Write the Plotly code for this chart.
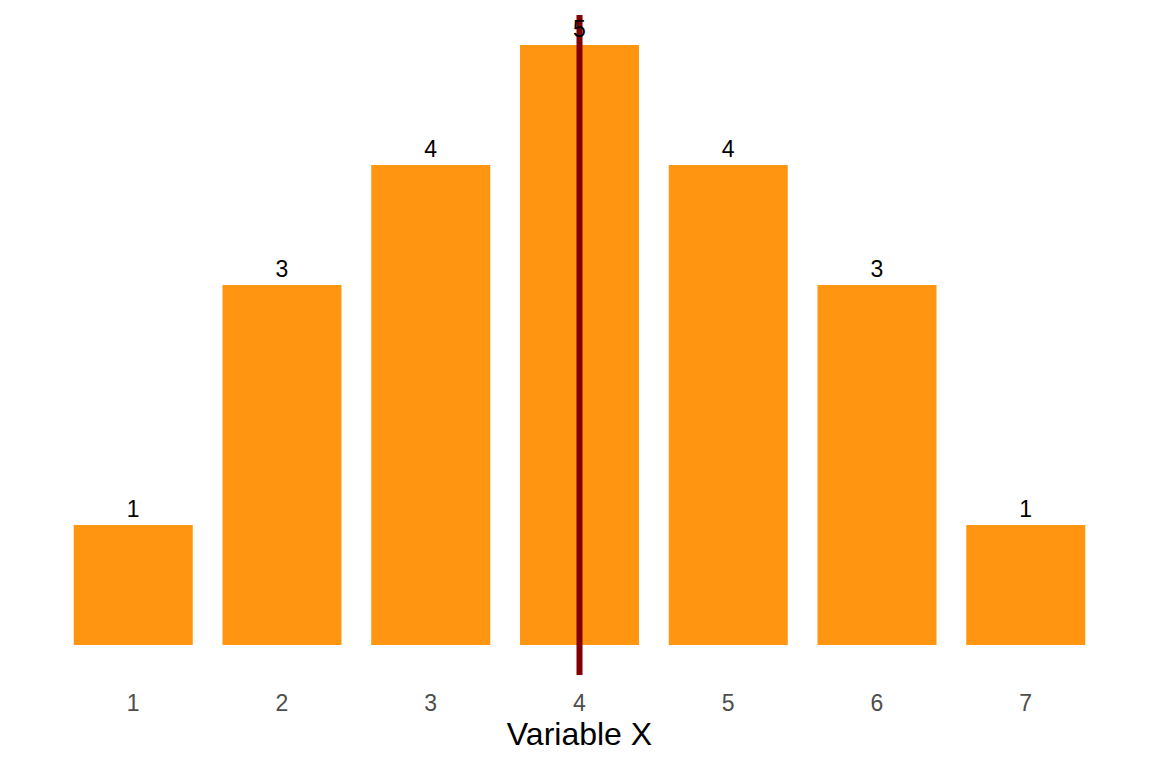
import plotly.graph_objects as go

# data
categories = [1, 2, 3, 4, 5, 6, 7]
counts = [1, 3, 4, 5, 4, 3, 1]
mean_x = 4
tick_labels = ["1", "2", "3", "4", "5", "6", "7"]

BAR_COLOR = "#FF9510"
LINE_COLOR = "#800000"
FONT = "Liberation Sans, Arial, sans-serif"

# ggplot-style expansion of the continuous y scale
y_pad = max(counts) * 0.05
y_range = [-y_pad, max(counts) + y_pad]

fig = go.Figure()

fig.add_trace(go.Bar(
    x=categories, y=counts,
    width=0.8,
    marker=dict(color=BAR_COLOR, line=dict(width=0)),
    hoverinfo="x+y",
))

fig.add_trace(go.Scatter(
    x=[mean_x, mean_x], y=y_range,
    mode="lines",
    line=dict(color=LINE_COLOR, width=6),
    hoverinfo="skip",
))

# count labels; invisible markers push the text a little above the bar tops
fig.add_trace(go.Scatter(
    x=categories, y=counts,
    mode="markers+text",
    marker=dict(size=2, color="rgba(0,0,0,0)"),
    text=[str(c) for c in counts],
    textposition="top center",
    textfont=dict(family=FONT, size=23, color="black"),
    hoverinfo="skip",
    cliponaxis=False,
))

# page body has an 8px margin, so margins are shifted to compensate
fig.update_layout(
    width=1152, height=768,
    paper_bgcolor="white", plot_bgcolor="white",
    showlegend=False,
    margin=dict(l=36, r=45, t=7, b=101),
    font=dict(family=FONT),
    xaxis=dict(
        range=[0.4, 7.6],
        tickvals=categories, ticktext=tick_labels,
        showgrid=False, zeroline=False, showline=False,
        ticks="outside", ticklen=0,
        ticklabelstandoff=7,
        tickfont=dict(family=FONT, size=23, color="#4D4D4D"),
        title=dict(text="Variable X", font=dict(family=FONT, size=32, color="black"),
                   standoff=5),
    ),
    yaxis=dict(
        range=y_range,
        showgrid=False, zeroline=False, showline=False,
        showticklabels=False, ticks="",
    ),
)

fig.write_html("out.html")
